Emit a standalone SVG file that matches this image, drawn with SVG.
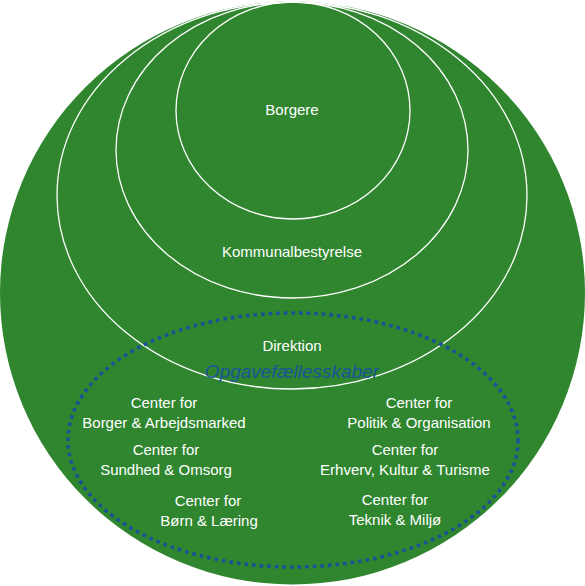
<svg xmlns="http://www.w3.org/2000/svg" width="585" height="586" viewBox="0 0 585 586">
<style>
.ring{fill:none;stroke:#ffffff;stroke-width:1.3}
.lbl{font-family:"Liberation Sans",Arial,sans-serif;font-size:15px;fill:#ffffff;text-anchor:middle}
.og{font-family:"Liberation Sans",Arial,sans-serif;font-size:19px;font-style:italic;fill:#1a5398;text-anchor:middle}
</style>
<rect width="585" height="586" fill="#ffffff"/>
<g id="outer">
<ellipse cx="292.5" cy="293" rx="292.5" ry="291.5" fill="#2f862f"/>
</g>
<g id="direktion">
<ellipse class="ring" cx="292" cy="195.5" rx="235" ry="193.5"/>
<text class="lbl" x="292" y="351">Direktion</text>
</g>
<g id="kommunalbestyrelse">
<ellipse class="ring" cx="292" cy="150" rx="176" ry="148"/>
<text class="lbl" x="292" y="257">Kommunalbestyrelse</text>
</g>
<g id="borgere">
<ellipse class="ring" cx="293" cy="110.5" rx="117" ry="108.5"/>
<text class="lbl" x="292" y="115">Borgere</text>
</g>
<g id="opgavefaellesskaber">
<ellipse cx="293" cy="440" rx="225" ry="127" fill="none" stroke="#1a5296" stroke-width="3.6" stroke-dasharray="3.6 4"/>
<text class="og" x="292" y="378">Opgavefællesskaber</text>
</g>
<g id="c-borger">
<text class="lbl" x="164" y="408">Center for</text>
<text class="lbl" x="164" y="428">Borger &amp; Arbejdsmarked</text>
</g>
<g id="c-sundhed">
<text class="lbl" x="166" y="455">Center for</text>
<text class="lbl" x="166" y="475">Sundhed &amp; Omsorg</text>
</g>
<g id="c-boern">
<text class="lbl" x="208" y="506">Center for</text>
<text class="lbl" x="209" y="526">Børn &amp; Læring</text>
</g>
<g id="c-politik">
<text class="lbl" x="419" y="408">Center for</text>
<text class="lbl" x="419" y="428">Politik &amp; Organisation</text>
</g>
<g id="c-erhverv">
<text class="lbl" x="405" y="455">Center for</text>
<text class="lbl" x="405" y="475">Erhverv, Kultur &amp; Turisme</text>
</g>
<g id="c-teknik">
<text class="lbl" x="395" y="505">Center for</text>
<text class="lbl" x="395" y="525">Teknik &amp; Miljø</text>
</g>
<g id="connectors"/>
</svg>
